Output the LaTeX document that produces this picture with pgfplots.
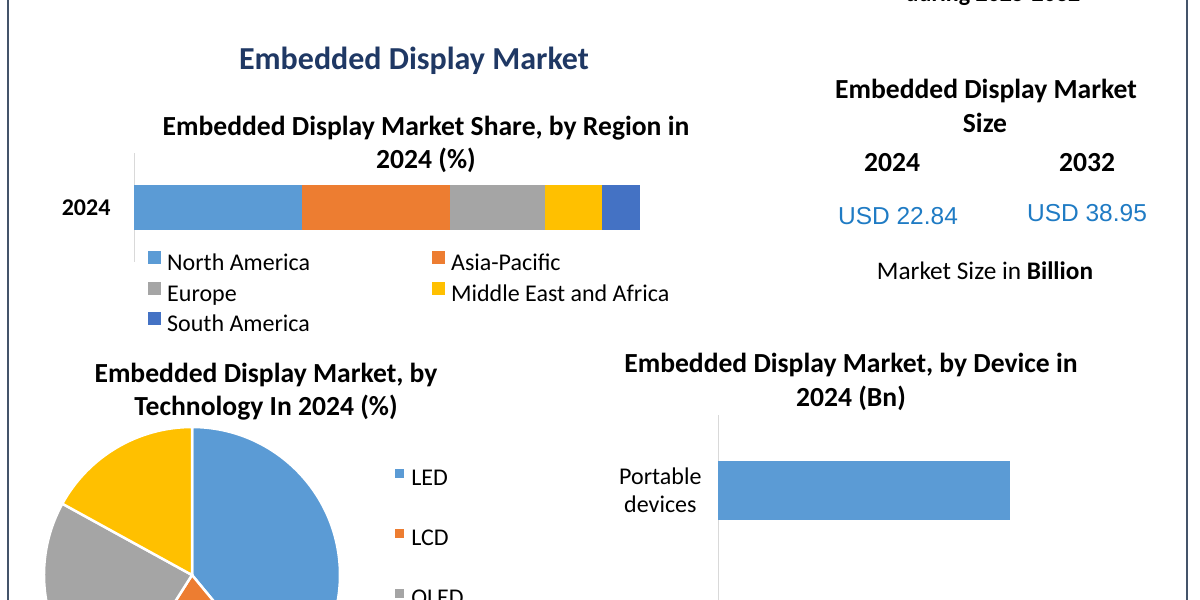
\documentclass[border=0pt]{standalone}
\usepackage{fontspec}
\setmainfont{Carlito}
\newfontfamily\arialfont{Liberation Sans}
\usepackage{pgfplots}
\usepackage{pgfplotstable}
\pgfplotsset{compat=1.18}
\definecolor{cNA}{HTML}{5B9BD5}
\definecolor{cAP}{HTML}{ED7D31}
\definecolor{cEU}{HTML}{A5A5A5}
\definecolor{cMEA}{HTML}{FFC000}
\definecolor{cSA}{HTML}{4472C4}
\definecolor{navy}{HTML}{1F3864}
\definecolor{usdblue}{HTML}{1F7BC4}
\definecolor{framec}{HTML}{44546A}
\definecolor{axgray}{HTML}{D9D9D9}
\newcommand\fsz[2]{\fontsize{#1}{#2}\selectfont}

\pgfplotstableread{
tech share
LED 39
LCD 20
OLED 24
Others 17
}\pietable

\begin{document}
\begin{tikzpicture}[x=1pt,y=1pt]
\useasboundingbox (0pt,0pt) rectangle (1200pt,600pt);
\fill[white] (0pt,0pt) rectangle (1200pt,600pt);

% frame
\draw[framec, line width=2pt] (8pt,-5pt) -- (8pt,605pt);
\draw[framec, line width=2pt] (1187pt,-5pt) -- (1187pt,605pt);

% texts
\node[anchor=base, font=\fsz{24pt}{28pt}\bfseries, inner sep=0pt] at (993pt,598pt) {during 2025-2032};
\node[anchor=base, font=\fsz{32pt}{36pt}\bfseries, text=navy, inner sep=0pt] at (414pt,530pt) {Embedded Display Market};
\node[anchor=base, font=\fsz{27.6pt}{32pt}\bfseries, inner sep=0pt] at (426pt,464.5pt) {Embedded Display Market Share, by Region in};
\node[anchor=base, font=\fsz{27.6pt}{32pt}\bfseries, inner sep=0pt] at (426pt,431.5pt) {2024 (\%)};

\node[anchor=base, font=\fsz{27.6pt}{32pt}\bfseries, inner sep=0pt] at (986pt,501.5pt) {Embedded Display Market};
\node[anchor=base, font=\fsz{27.6pt}{32pt}\bfseries, inner sep=0pt] at (985pt,467pt) {Size};
\node[anchor=base, font=\fsz{27.6pt}{32pt}\bfseries, inner sep=0pt] at (892pt,428pt) {2024};
\node[anchor=base, font=\fsz{27.6pt}{32pt}\bfseries, inner sep=0pt] at (1087pt,428pt) {2032};
\node[anchor=base, font=\arialfont\fsz{24.5pt}{28pt}, text=usdblue, inner sep=0pt] at (898pt,375.5pt) {USD 22.84};
\node[anchor=base, font=\arialfont\fsz{24.5pt}{28pt}, text=usdblue, inner sep=0pt] at (1087pt,378.5pt) {USD 38.95};
\node[anchor=base, font=\fsz{25.3pt}{30pt}, inner sep=0pt] at (985pt,320pt) {Market Size in \textbf{Billion}};

\node[anchor=base, font=\fsz{27.6pt}{32pt}\bfseries, inner sep=0pt] at (266pt,217.5pt) {Embedded Display Market, by};
\node[anchor=base, font=\fsz{27.6pt}{32pt}\bfseries, inner sep=0pt] at (266pt,184pt) {Technology In 2024 (\%)};
\node[anchor=base, font=\fsz{27.6pt}{32pt}\bfseries, inner sep=0pt] at (851pt,227pt) {Embedded Display Market, by Device in};
\node[anchor=base, font=\fsz{27.6pt}{32pt}\bfseries, inner sep=0pt] at (851pt,193pt) {2024 (Bn)};

% region stacked bar
\begin{axis}[at={(134pt,338pt)}, anchor=south west, scale only axis,
  width=506pt, height=109pt,
  xbar stacked, xmin=0, xmax=100, ymin=-1, ymax=1, bar width=0.81,
  axis x line=none, axis y line*=left,
  y axis line style={draw=axgray, line width=1pt},
  ytick={0}, yticklabels={\textbf{2024}}, major tick length=0pt,
  yticklabel style={font=\fsz{24pt}{28pt}, xshift=-20pt},
  legend columns=2,
  legend image code/.code={\fill[#1] (0pt,0.5pt) rectangle (13pt,13.5pt);},
  legend style={at={(0.0277,0.101)}, anchor=north west, draw=none, fill=none,
    inner sep=0pt, font=\fsz{24pt}{28pt}, row sep=5pt,
    nodes={inner sep=1pt, text height=17pt, text depth=5pt},
    /tikz/every odd column/.style={column sep=5pt},
    /tikz/column 2/.style={column sep=121pt}},
  legend cell align=left]
\addplot[fill=cNA, draw=none] coordinates {(33.3,0)};
\addplot[fill=cAP, draw=none] coordinates {(29.1,0)};
\addplot[fill=cEU, draw=none] coordinates {(18.8,0)};
\addplot[fill=cMEA, draw=none] coordinates {(11.3,0)};
\addplot[fill=cSA, draw=none] coordinates {(7.5,0)};
\legend{North America, Asia-Pacific, Europe, Middle East and Africa, South America}
\end{axis}

% device bar
\begin{axis}[at={(718pt,185pt)}, anchor=north west, scale only axis,
  width=442pt, height=402.6pt,
  xbar, xmin=0, xmax=15, y dir=reverse, ymin=-0.6, ymax=2.6, bar width=0.469,
  axis x line=none, axis y line*=left,
  y axis line style={draw=axgray, line width=1pt},
  ytick={0}, yticklabels={{Portable\\devices}}, major tick length=0pt,
  yticklabel style={font=\fsz{24pt}{28pt}, align=center, xshift=-13pt}]
\addplot[fill=cNA, draw=none] coordinates {(9.9,0)};
\end{axis}

% pie
\pgfplotstablegetelem{0}{share}\of\pietable \pgfmathsetmacro\ca{\pgfplotsretval}
\pgfplotstablegetelem{1}{share}\of\pietable \pgfmathsetmacro\cb{\ca+\pgfplotsretval}
\pgfplotstablegetelem{2}{share}\of\pietable \pgfmathsetmacro\cc{\cb+\pgfplotsretval}
\pgfplotstablegetelem{3}{share}\of\pietable \pgfmathsetmacro\cd{\cc+\pgfplotsretval}
\pgfmathsetmacro\ea{90-3.6*\ca}
\pgfmathsetmacro\eb{90-3.6*\cb}
\pgfmathsetmacro\ec{90-3.6*\cc}
\pgfmathsetmacro\ed{90-3.6*\cd}
\begin{axis}[at={(192pt,25pt)}, anchor=origin, scale only axis,
  width=296pt, height=296pt, hide axis,
  xmin=-1, xmax=1, ymin=-1, ymax=1, clip=false,
  legend image code/.code={\fill[#1] (0pt,1pt) rectangle (9pt,10pt);},
  legend style={at={(1.186,0.865)}, anchor=north west, draw=none, fill=none,
    inner sep=0pt, font=\fsz{24pt}{28pt}, row sep=36pt,
    nodes={inner sep=1pt, text height=17pt, text depth=5pt},
    /tikz/every odd column/.style={column sep=6pt}},
  legend cell align=left]
\addlegendimage{fill=cNA, draw=none}
\addlegendentry{LED}
\addlegendimage{fill=cAP, draw=none}
\addlegendentry{LCD}
\addlegendimage{fill=cEU, draw=none}
\addlegendentry{OLED}
\addlegendimage{fill=cMEA, draw=none}
\addlegendentry{Others}
\fill[cNA, draw=white, line width=2.5pt] (axis cs:0,0) -- (axis cs:0,1) arc[start angle=90, end angle=\ea, radius=148pt] -- cycle;
\fill[cAP, draw=white, line width=2.5pt] (axis cs:0,0) -- (axis cs:{cos(\ea)},{sin(\ea)}) arc[start angle=\ea, end angle=\eb, radius=148pt] -- cycle;
\fill[cEU, draw=white, line width=2.5pt] (axis cs:0,0) -- (axis cs:{cos(\eb)},{sin(\eb)}) arc[start angle=\eb, end angle=\ec, radius=148pt] -- cycle;
\fill[cMEA, draw=white, line width=2.5pt] (axis cs:0,0) -- (axis cs:{cos(\ec)},{sin(\ec)}) arc[start angle=\ec, end angle=\ed, radius=148pt] -- cycle;
\end{axis}
\end{tikzpicture}
\end{document}
